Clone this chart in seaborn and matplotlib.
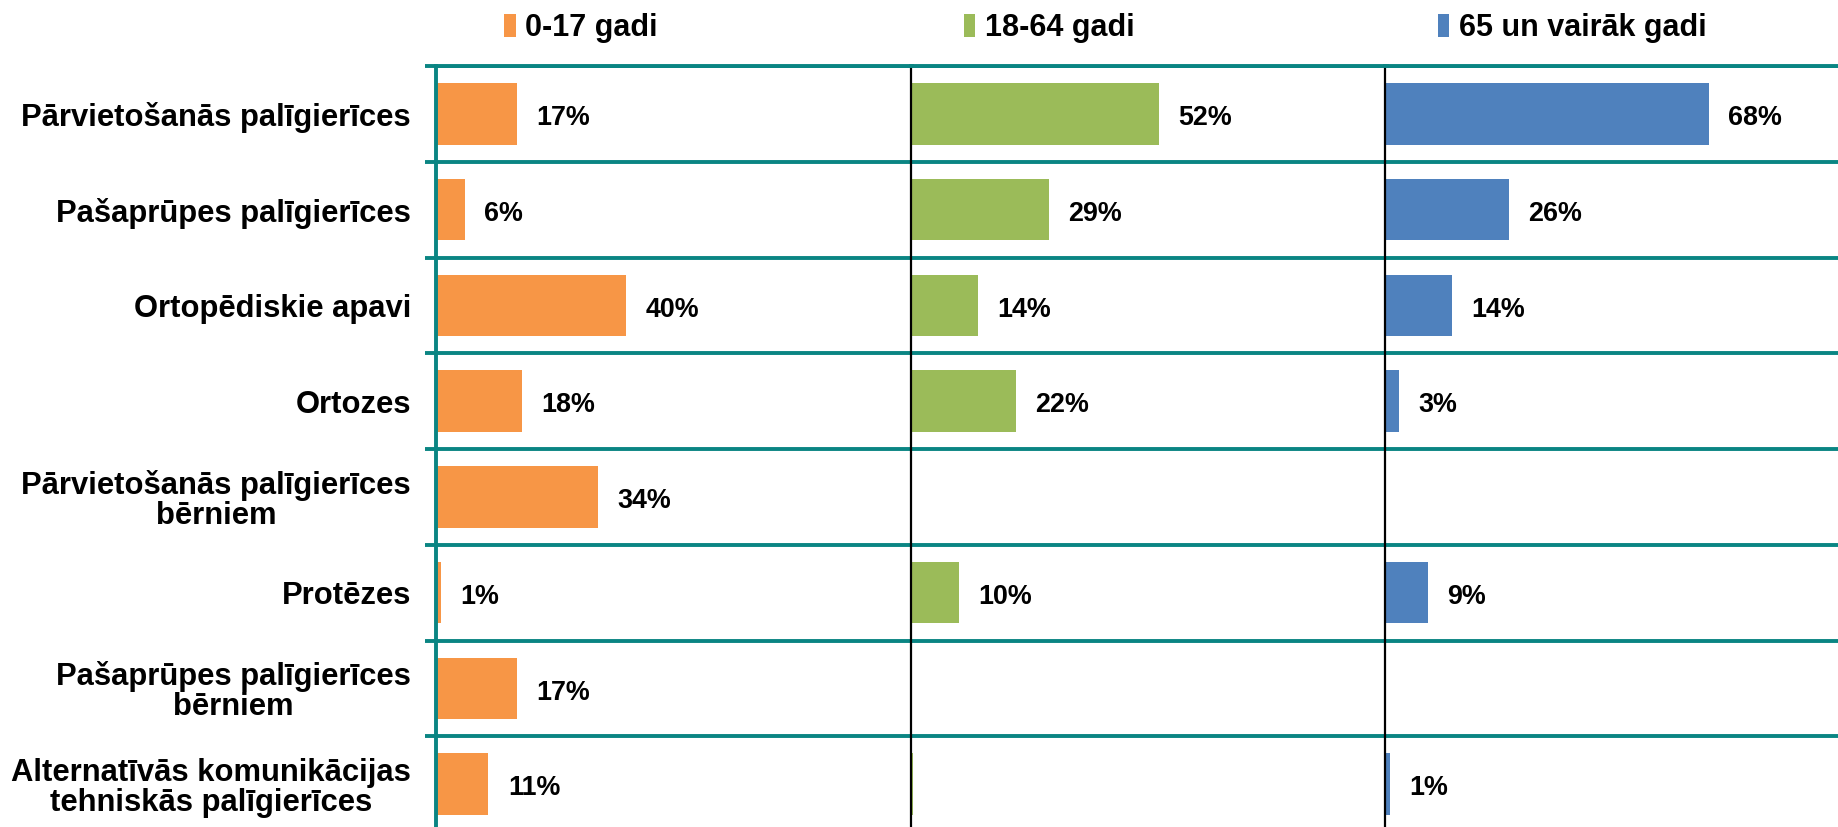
import numpy as np
import pandas as pd
import matplotlib
matplotlib.use("Agg")
import matplotlib.pyplot as plt
import seaborn as sns
from matplotlib import font_manager
from matplotlib.patches import Patch

# ---------------- data ----------------
categories = [
    "Pārvietošanās palīgierīces",
    "Pašaprūpes palīgierīces",
    "Ortopēdiskie apavi",
    "Ortozes",
    "Pārvietošanās palīgierīces\nbērniem",
    "Protēzes",
    "Pašaprūpes palīgierīces\nbērniem",
    "Alternatīvās komunikācijas\ntehniskās palīgierīces",
]
series_names = ["0-17 gadi", "18-64 gadi", "65 un vairāk gadi"]
values_0_17 = [17, 6, 40, 18, 34, 1, 17, 11]
values_18_64 = [52, 29, 14, 22, np.nan, 10, np.nan, 0.4]
values_65 = [68, 26, 14, 3, np.nan, 9, np.nan, 1]
colors = ["#F79646", "#9BBB59", "#4F81BD"]

teal = "#0A8583"

# ---------------- fonts ----------------
sns.set_theme(style="white")
family = "Liberation Sans"
plt.rcParams["font.family"] = [family, "DejaVu Sans"]
plt.rcParams["font.weight"] = "bold"
plt.rcParams["text.color"] = "black"
cat_fs = 22.3
lab_fs = 19.4
leg_fs = 22.0

# ---------------- figure ----------------
W, H = 1838, 827
fig = plt.figure(figsize=(W / 100, H / 100), dpi=100)
fig.patch.set_facecolor("white")

top_px = 66
over_px = 5
panel_left_px = [436, 911, 1385]
panel_w_px = 476
ax_bottom = -over_px / H
ax_h = (H - top_px + over_px) / H

all_series = [values_0_17, values_18_64, values_65]
legend_x = [0.143, 0.111, 0.111]

for i, (vals, name, col) in enumerate(zip(all_series, series_names, colors)):
    ax = fig.add_axes([panel_left_px[i] / W, ax_bottom, panel_w_px / W, ax_h])
    df = pd.DataFrame({"category": categories, "value": vals}).dropna()
    sns.barplot(data=df, x="value", y="category", order=categories,
                color=col, width=0.64, ax=ax, orient="h",
                saturation=1, errorbar=None, edgecolor="none")
    ax.set_xlim(0, 100)
    ax.set_ylim(len(categories) - 0.5, -0.5)
    ax.set_xlabel("")
    ax.set_ylabel("")
    ax.set_xticks([])

    # category boundaries as teal grid lines
    ax.set_yticks(np.arange(-0.5, len(categories) - 1, 1), minor=True)
    ax.grid(False)
    ax.grid(which="minor", axis="y", color=teal, linewidth=2.8)
    ax.set_axisbelow(True)

    for s in ["right", "bottom"]:
        ax.spines[s].set_visible(False)
    ax.spines["top"].set_color(teal)
    ax.spines["top"].set_linewidth(2.8)

    if i == 0:
        ax.spines["left"].set_color(teal)
        ax.spines["left"].set_linewidth(2.8)
        ax.tick_params(axis="y", which="major", length=0, pad=18,
                       labelsize=cat_fs, labelcolor="black")
        ax.tick_params(axis="y", which="minor", length=8, width=2.8,
                       color=teal, left=True)
        for lbl in ax.get_yticklabels():
            lbl.set_multialignment("center")
            lbl.set_linespacing(1.0)
            lbl.set_fontweight("bold")
    else:
        ax.spines["left"].set_color("black")
        ax.spines["left"].set_linewidth(1.6)
        ax.set_yticklabels([])
        ax.tick_params(axis="y", which="both", length=0)

    for cont in ax.containers:
        labels = [f"{v:.0f}%" if v >= 0.5 else "" for v in cont.datavalues]
        texts = ax.bar_label(cont, labels=labels, padding=14, fontsize=lab_fs,
                             fontweight="bold", color="black")
        for t in texts:
            t.xyann = (14, -3)

    handle = Patch(facecolor=col, edgecolor="none")
    ax.legend([handle], [name], loc="center left",
              bbox_to_anchor=(legend_x[i], 1 + 38 / (ax_h * H)),
              frameon=False, borderpad=0, borderaxespad=0,
              handlelength=0.38, handleheight=0.75, handletextpad=0.3,
              labelcolor="black",
              prop={"size": leg_fs, "weight": "bold", "family": [family, "DejaVu Sans"]})

fig.savefig("out.png", dpi=100, facecolor="white")
